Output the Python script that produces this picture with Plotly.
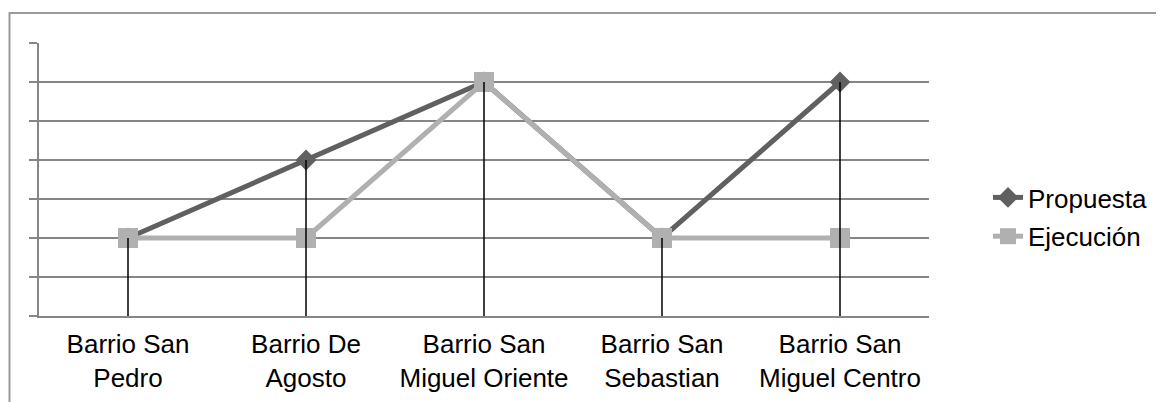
import plotly.graph_objects as go

categories = ["Barrio San<br>Pedro", "Barrio De<br>Agosto", "Barrio San<br>Miguel Oriente",
              "Barrio San<br>Sebastian", "Barrio San<br>Miguel Centro"]
propuesta = [2, 4, 6, 2, 6]
ejecucion = [2, 2, 6, 2, 2]

FONT = "Liberation Sans, Arial, sans-serif"
GRID = "#868686"

fig = go.Figure()
fig.add_trace(go.Scatter(
    x=categories, y=propuesta, name="Propuesta", mode="lines+markers",
    legendgroup="p",
    line=dict(color="#606060", width=5),
    marker=dict(symbol="diamond", size=16, color="#606060"),
))
fig.add_trace(go.Scatter(
    x=categories, y=ejecucion, name="Ejecución", mode="lines+markers",
    legendgroup="e",
    line=dict(color="#b0b0b0", width=5),
    marker=dict(symbol="square", size=20, color="#b0b0b0"),
))

# drop lines from the highest value of each category down to the axis
dx, dy = [], []
for c, a, b in zip(categories, propuesta, ejecucion):
    dx += [c, c, None]
    dy += [0, max(a, b), None]
fig.add_trace(go.Scatter(x=dx, y=dy, mode="lines", showlegend=False,
                         line=dict(color="black", width=1.5), hoverinfo="skip"))

OFF = 8  # page body margin
W, H = 1164 - OFF, 402 - OFF
L, T = 39 - OFF, 43 - OFF
R = W - (929 - OFF)
B = H - (316 - OFF)
pw, ph = W - L - R, H - T - B

def px(x):
    return (x - OFF - L) / pw

def py(y):
    return (H - B - (y - OFF)) / ph

fig.add_shape(type="rect", xref="paper", yref="paper",
              x0=px(9.5), x1=px(1180), y0=py(420), y1=py(13),
              line=dict(color="#9a9a9a", width=2), layer="below")

fig.update_layout(
    width=W, height=H,
    margin=dict(l=L, r=R, t=T, b=B, autoexpand=False),
    paper_bgcolor="white", plot_bgcolor="white",
    font=dict(family=FONT, size=26, color="black"),
    showlegend=True,
    legend=dict(x=px(988), y=py(174), xanchor="left", yanchor="top",
                font=dict(size=26), bgcolor="rgba(0,0,0,0)",
                traceorder="grouped", tracegroupgap=2),
)
fig.update_xaxes(
    automargin=False, range=[-0.5, len(categories) - 0.5],
    showgrid=False, showline=True, linecolor=GRID, linewidth=1.5,
    ticks="outside", ticklen=4, tickcolor="rgba(0,0,0,0)",
    tickfont=dict(size=26),
)
fig.update_yaxes(
    automargin=False,
    range=[0, 7], dtick=1, showticklabels=False,
    showgrid=True, gridcolor=GRID, gridwidth=1.5,
    zeroline=False, showline=True, linecolor=GRID, linewidth=1.5,
    ticks="outside", ticklen=8, tickcolor=GRID, tickwidth=1.5,
)

fig.write_html("out.html")
